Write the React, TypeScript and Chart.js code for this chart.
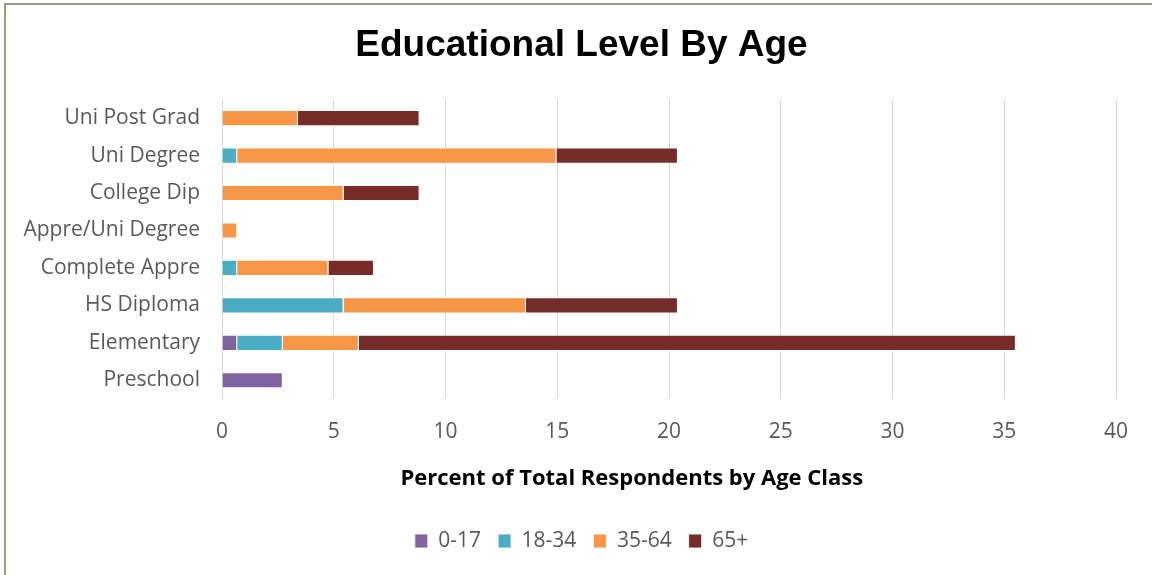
import React, { useEffect, useRef } from "react";
import { Chart, registerables } from "chart.js";

Chart.register(...registerables);

const categories = [
  "Uni Post Grad",
  "Uni Degree",
  "College Dip",
  "Appre/Uni Degree",
  "Complete Appre",
  "HS Diploma",
  "Elementary",
  "Preschool",
];
const age0to17 = [0, 0, 0, 0, 0, 0, 0.68, 2.72];
const age18to34 = [0, 0.68, 0, 0, 0.68, 5.44, 2.04, 0];
const age35to64 = [3.4, 14.28, 5.44, 0.68, 4.08, 8.16, 3.4, 0];
const age65plus = [5.44, 5.44, 3.4, 0, 2.04, 6.8, 29.4, 0];
const seriesNames = ["0-17", "18-34", "35-64", "65+"];
const xTicks = [0, 5, 10, 15, 20, 25, 30, 35, 40];

const colors = ["#8064A2", "#4BACC6", "#F79646", "#772C2A"];
const labelFont = "'Open Sans', 'Liberation Sans', sans-serif";

// let the category labels use the space left of the y scale box (no clipping)
const widenYLabelArea = {
  id: "widenYLabelArea",
  afterLayout(chart: any) {
    if (chart.scales.y) chart.scales.y.left = 0;
  },
};

export default function App() {
  const canvasRef = useRef<HTMLCanvasElement | null>(null);

  useEffect(() => {
    if (!canvasRef.current) return;
    const values = [age0to17, age18to34, age35to64, age65plus];
    const chart = new Chart(canvasRef.current, {
      type: "bar",
      data: {
        labels: categories,
        datasets: values.map((v, i) => ({
          label: seriesNames[i],
          data: v,
          backgroundColor: colors[i],
          borderColor: "rgba(255,255,255,0.85)",
          borderWidth: 1,
          categoryPercentage: 0.86,
          barPercentage: 0.5,
        })),
      },
      plugins: [widenYLabelArea],
      options: {
        indexAxis: "y",
        animation: false,
        responsive: false,
        maintainAspectRatio: false,
        layout: { padding: { left: 47, right: 36, top: 0, bottom: 13.5 } },
        plugins: {
          title: {
            display: true,
            text: "Educational Level By Age",
            color: "#000000",
            font: { family: "'Liberation Sans', Arial, sans-serif", size: 37, weight: "bold" },
            padding: { top: 24, bottom: 31 },
          },
          legend: {
            display: true,
            position: "bottom",
            labels: {
              boxWidth: 13,
              boxHeight: 14,
              padding: 17,
              color: "#595959",
              font: { family: labelFont, size: 21 },
            },
          },
          tooltip: { enabled: false },
        },
        scales: {
          x: {
            stacked: true,
            min: 0,
            max: 40,
            afterBuildTicks: (scale: any) => {
              scale.ticks = xTicks.map((v) => ({ value: v }));
            },
            afterFit: (scale: any) => {
              scale.height = 114.5;
            },
            grid: { color: "#d9d9d9", lineWidth: 1, drawTicks: false },
            border: { display: false },
            ticks: {
              color: "#595959",
              font: { family: labelFont, size: 21 },
              padding: 20,
            },
            title: {
              display: true,
              text: "Percent of Total Respondents by Age Class             ",
              color: "#000000",
              font: { family: labelFont, size: 22, weight: "bold" },
              padding: { top: 0, bottom: 22 },
            },
          },
          y: {
            stacked: true,
            afterFit: (scale: any) => {
              scale.width = 175;
            },
            grid: { display: false, drawTicks: false },
            border: { display: false },
            ticks: {
              color: "#595959",
              font: { family: labelFont, size: 21 },
              padding: 22,
            },
          },
        },
      },
    });
    return () => chart.destroy();
  }, []);

  return (
    <div style={{ position: "fixed", left: 0, top: 0, width: 1152, height: 575, background: "#ffffff", overflow: "hidden" }}>
      <div
        style={{
          position: "absolute",
          left: 4,
          top: 3,
          width: 1300,
          height: 700,
          borderTop: "2px solid #a8957b",
          borderLeft: "2px solid #a8957b",
        }}
      />
      <canvas ref={canvasRef} width={1152} height={575} style={{ position: "absolute", left: 0, top: 0 }} />
    </div>
  );
}
